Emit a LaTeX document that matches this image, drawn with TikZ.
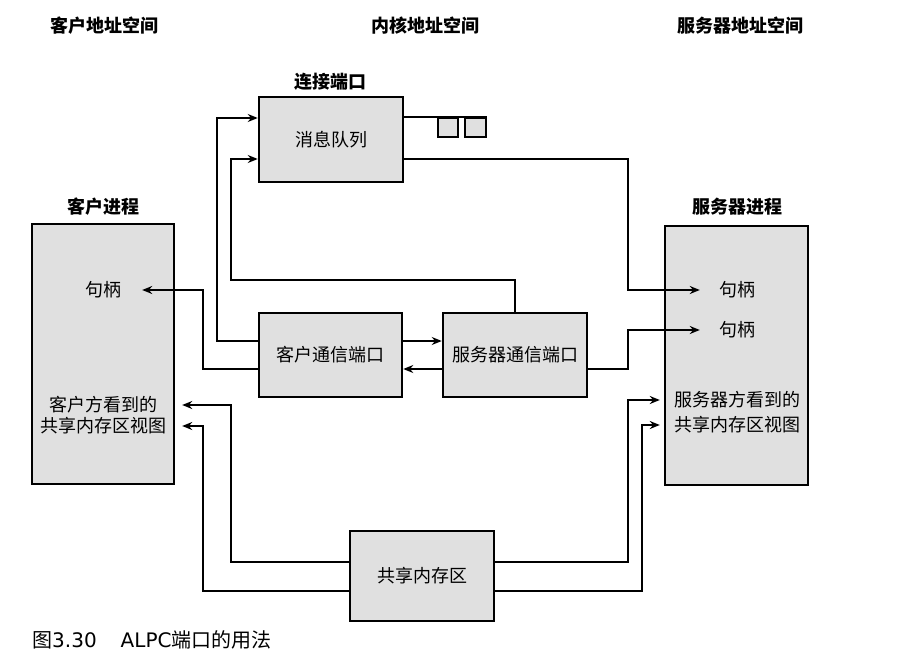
\documentclass[tikz,border=0pt]{standalone}
\usepackage{fontspec}
\setmainfont{Noto Sans CJK SC}
\newfontfamily\latinfont{DejaVu Sans}
\usetikzlibrary{arrows.meta}

\tikzset{
	box/.style={draw, line width=2.5pt, fill=black!12, inner sep=0, font=\fontsize{18}{20}\selectfont},
	lbl/.style={inner sep=0, font=\fontsize{18}{20}\selectfont},
	hdr/.style={inner sep=0, font=\fontsize{18}{20}\selectfont\bfseries},
	wire/.style={line width=2.2pt},
	conn/.style={wire, -{Stealth[length=10pt,width=8pt]}},
}

\begin{document}
\begin{tikzpicture}[x=1pt, y=-1pt]
	\useasboundingbox (0,0) rectangle (899,666);
	% Address space headers:
	\node[hdr] (hdrC) at (104,26) {客户地址空间};
	\node[hdr] (hdrK) at (425,26) {内核地址空间};
	\node[hdr] (hdrS) at (740,26) {服务器地址空间};
	% Boxes:
	\node[hdr] (queueT) at (330,82) {连接端口};
	\node[box, minimum width=144, minimum height=85] (queue) at (331,139.5) {消息队列};
	\node[box, minimum width=20, minimum height=19] (sq1) at (448,127.5) {};
	\node[box, minimum width=21, minimum height=19] (sq2) at (475.5,127.5) {};
	\node[hdr] (clientT) at (103,207) {客户进程};
	\node[box, minimum width=142, minimum height=260] (client) at (103,354) {};
	\node[hdr] (serverT) at (737,207) {服务器进程};
	\node[box, minimum width=143, minimum height=259] (server) at (736.5,355.5) {};
	\node[box, minimum width=143, minimum height=84] (cport) at (330.5,355) {客户通信端口};
	\node[box, minimum width=144, minimum height=84] (sport) at (515,355) {服务器通信端口};
	\node[box, minimum width=144, minimum height=90] (shm) at (422,576) {共享内存区};
	% Texts in the processes:
	\node[lbl] (hC) at (103,290) {句柄};
	\node[lbl] (vC1) at (103,405) {客户方看到的};
	\node[lbl] (vC2) at (103,426) {共享内存区视图};
	\node[lbl] (hS1) at (737,290) {句柄};
	\node[lbl] (hS2) at (737,330) {句柄};
	\node[lbl] (vS1) at (737,400) {服务器方看到的};
	\node[lbl] (vS2) at (737,425) {共享内存区视图};
	% Connectors:
	\draw[wire] (queue.east |- sq1.north) -- (sq2.north east);
	\draw[conn] ([yshift=-19.5pt]queue.east) -| (628,290) -- ([xshift=-19pt]hS1.west);
	\draw[conn] ([yshift=14pt]cport.west) -| (217,118) -- ([yshift=21.5pt]queue.west);
	\draw[conn] (sport.north) |- (231,280) |- ([yshift=-19.5pt]queue.west);
	\draw[conn] ([yshift=-14pt]cport.west) -| (203,290) -- ([xshift=21pt]hC.east);
	\draw[conn] ([yshift=14pt]cport.east) -- ([yshift=14pt]sport.west);
	\draw[conn] ([yshift=-14pt]sport.west) -- ([yshift=-14pt]cport.east);
	\draw[conn] ([yshift=-14pt]sport.east) -| (628,330) -- ([xshift=-19pt]hS2.west);
	\draw[conn] ([yshift=14pt]shm.west) -| (231,405) -- ([xshift=25pt]vC1.east);
	\draw[conn] ([yshift=-15pt]shm.west) -| (203,426) -- ([xshift=16pt]vC2.east);
	\draw[conn] ([yshift=14pt]shm.east) -| (628,400) -- ([xshift=-14pt]vS1.west);
	\draw[conn] ([yshift=-15pt]shm.east) -| (642,425) -- ([xshift=-14pt]vS2.west);
	% Caption:
	\node[anchor=west, inner sep=0, font=\fontsize{20}{22}\selectfont] (cap) at (32,640)
		{图{\latinfont 3.30}\hspace{24pt}{\latinfont ALPC}端口的用法};
\end{tikzpicture}
\end{document}
